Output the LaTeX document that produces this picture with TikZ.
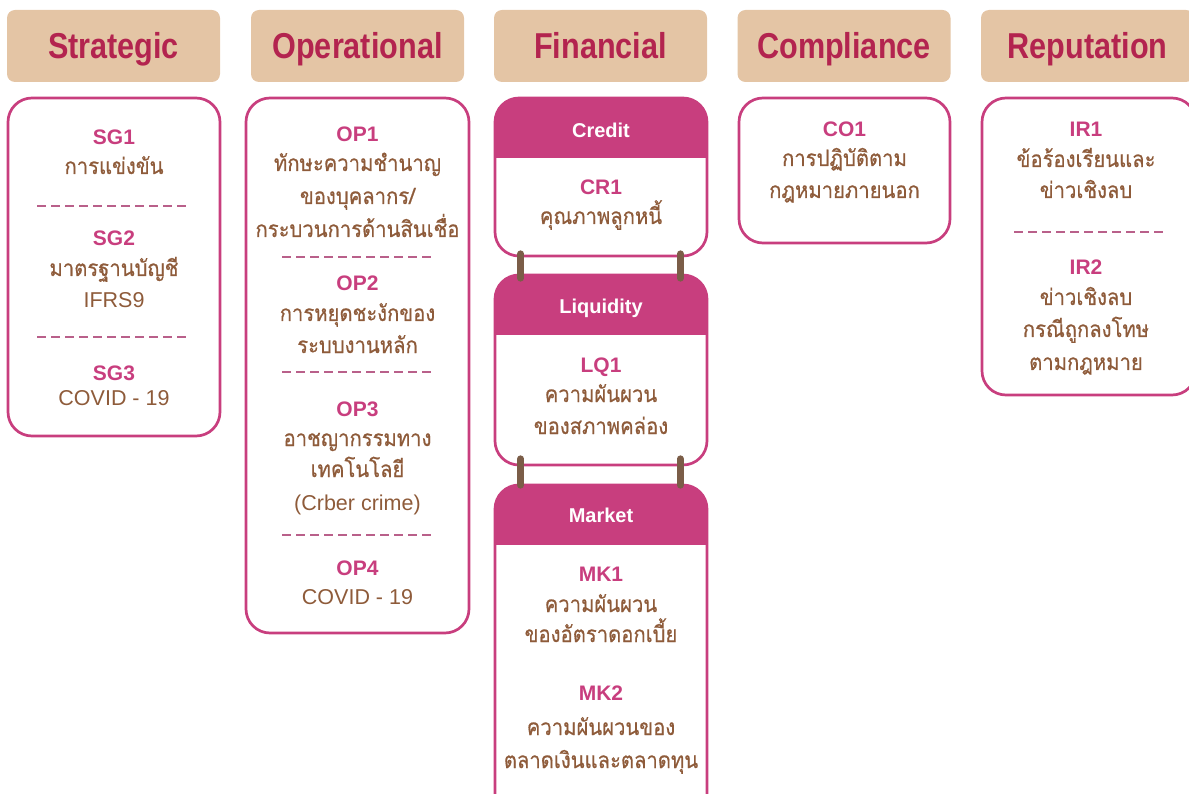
\documentclass[tikz,border=0pt]{standalone}
\usepackage{fontspec}
\setmainfont{Liberation Sans}
\newfontfamily\hdrfont[FakeStretch=0.85]{Liberation Sans}
\newfontfamily\thaifont[Script=Thai,FakeStretch=0.9,FakeBold=0.6]{Loma}
\definecolor{tanc}{HTML}{E4C5A5}
\definecolor{headc}{HTML}{B3244F}
\definecolor{pinkc}{HTML}{C83E7E}
\definecolor{brownc}{HTML}{8E5B3A}
\definecolor{dashc}{HTML}{B9608A}
\definecolor{barc}{HTML}{7B5D48}
\begin{document}
\begin{tikzpicture}[x=1pt,y=-1pt,
  hdr/.style={fill=tanc, rounded corners=8pt, minimum width=213pt, minimum height=72pt, inner sep=0pt, text=headc, font=\hdrfont\bfseries\fontsize{36}{40}\selectfont, text height=26pt, text depth=0pt},
  colbox/.style={draw=pinkc, line width=2.7pt, rounded corners=24pt, inner sep=0pt},
  finbox/.style={colbox, path picture={\fill[pinkc, sharp corners] (path picture bounding box.north west) rectangle ([yshift=-60pt]path picture bounding box.north east);}},
  code/.style={anchor=base, text=pinkc, font=\bfseries\fontsize{21}{24}\selectfont, inner sep=0pt},
  th/.style={anchor=base, text=brownc, font=\thaifont\fontsize{22.5}{26}\selectfont, inner sep=0pt},
  lat/.style={anchor=base, text=brownc, font=\fontsize{21.5}{24}\selectfont, inner sep=0pt},
  fhead/.style={anchor=base, text=white, font=\bfseries\fontsize{20}{24}\selectfont, inner sep=0pt},
  sep/.style={draw=dashc, line width=2.8pt, dash pattern=on 9.3pt off 4.7pt},
  bar/.style={draw=barc, line width=7pt, line cap=round}]
\useasboundingbox (0,0) rectangle (1189,794);
\clip (0,0) rectangle (1189,794);
% headers
\node[hdr] (hsg) at (113.5,46) {Strategic};
\node[hdr] (hop) at (357.5,46) {Operational};
\node[hdr] (hfi) at (600.5,46) {Financial};
\node[hdr] (hco) at (844,46) {Compliance};
\node[hdr] (hre) at (1087.5,46) {Reputation};
% column boxes
\node[colbox, minimum width=212pt, minimum height=338pt] (sgbox) at (114,267) {};
\node[colbox, minimum width=223pt, minimum height=535pt] (opbox) at (357.5,365.5) {};
\node[finbox, minimum width=212pt, minimum height=158pt] (crbox) at (601,177) {};
\node[finbox, minimum width=212pt, minimum height=190pt] (lqbox) at (601,370) {};
\node[finbox, minimum width=212pt, minimum height=335pt] (mkbox) at (601,652.5) {};
\node[colbox, minimum width=211pt, minimum height=145pt] (cobox) at (844.5,170.5) {};
\node[colbox, minimum width=214pt, minimum height=297pt] (irbox) at (1089,246.5) {};
% links between financial boxes
\draw[bar] ([xshift=27pt,yshift=3.5pt]crbox.south west) -- ([xshift=27pt,yshift=-4.5pt]lqbox.north west);
\draw[bar] ([xshift=-28pt,yshift=3.5pt]crbox.south east) -- ([xshift=-28pt,yshift=-4.5pt]lqbox.north east);
\draw[bar] ([xshift=27pt,yshift=7.5pt]lqbox.south west) -- ([xshift=27pt,yshift=-1.5pt]mkbox.north west);
\draw[bar] ([xshift=-28pt,yshift=7.5pt]lqbox.south east) -- ([xshift=-28pt,yshift=-1.5pt]mkbox.north east);
% Strategic
\node[code] (sg1) at (114,144.5) {SG1};
\node[th] (sg1a) at (114,174) {การแข่งขัน};
\draw[sep] (37,206) -- (186.3,206);
\node[code] (sg2) at (114,245.5) {SG2};
\node[th] (sg2a) at (114,276) {มาตรฐานบัญชี};
\node[lat] (sg2b) at (114,307.5) {IFRS9};
\draw[sep] (37,337) -- (186.3,337);
\node[code] (sg3) at (114,380.5) {SG3};
\node[lat] (sg3a) at (114,405.5) {COVID - 19};
% Operational
\node[code] (op1) at (357.5,141.5) {OP1};
\node[th] (op1a) at (357.5,171) {ทักษะความชำนาญ};
\node[th] (op1b) at (357.5,204) {ของบุคลากร/};
\node[th] (op1c) at (357.5,237) {กระบวนการด้านสินเชื่อ};
\draw[sep] (282,257) -- (431.3,257);
\node[code] (op2) at (357.5,290.5) {OP2};
\node[th] (op2a) at (357.5,321) {การหยุดชะงักของ};
\node[th] (op2b) at (357.5,353) {ระบบงานหลัก};
\draw[sep] (282,372) -- (431.3,372);
\node[code] (op3) at (357.5,416.5) {OP3};
\node[th] (op3a) at (357.5,446) {อาชญากรรมทาง};
\node[th] (op3b) at (357.5,477) {เทคโนโลยี};
\node[lat] (op3c) at (357.5,510.5) {(Crber crime)};
\draw[sep] (282,535) -- (431.3,535);
\node[code] (op4) at (357.5,575.5) {OP4};
\node[lat] (op4a) at (357.5,604.5) {COVID - 19};
% Financial
\node[fhead] (crh) at (601,137.5) {Credit};
\node[code] (cr1) at (601,194.5) {CR1};
\node[th] (cr1a) at (601,224) {คุณภาพลูกหนี้};
\node[fhead] (lqh) at (601,313.5) {Liquidity};
\node[code] (lq1) at (601,372.5) {LQ1};
\node[th] (lq1a) at (601,402) {ความผันผวน};
\node[th] (lq1b) at (601,434) {ของสภาพคล่อง};
\node[fhead] (mkh) at (601,522.5) {Market};
\node[code] (mk1) at (601,581.5) {MK1};
\node[th] (mk1a) at (601,612) {ความผันผวน};
\node[th] (mk1b) at (601,642) {ของอัตราดอกเบี้ย};
\node[code] (mk2) at (601,700.5) {MK2};
\node[th] (mk2a) at (601,735) {ความผันผวนของ};
\node[th] (mk2b) at (601,768) {ตลาดเงินและตลาดทุน};
% Compliance
\node[code] (co1) at (844.5,136.5) {CO1};
\node[th] (co1a) at (844.5,166) {การปฏิบัติตาม};
\node[th] (co1b) at (844.5,198) {กฎหมายภายนอก};
% Reputation
\node[code] (ir1) at (1086,136.5) {IR1};
\node[th] (ir1a) at (1086,167) {ข้อร้องเรียนและ};
\node[th] (ir1b) at (1086,198) {ข่าวเชิงลบ};
\draw[sep] (1014,232) -- (1163.3,232);
\node[code] (ir2) at (1086,274.5) {IR2};
\node[th] (ir2a) at (1086,305) {ข่าวเชิงลบ};
\node[th] (ir2b) at (1086,337) {กรณีถูกลงโทษ};
\node[th] (ir2c) at (1086,370) {ตามกฎหมาย};
\end{tikzpicture}
\end{document}
